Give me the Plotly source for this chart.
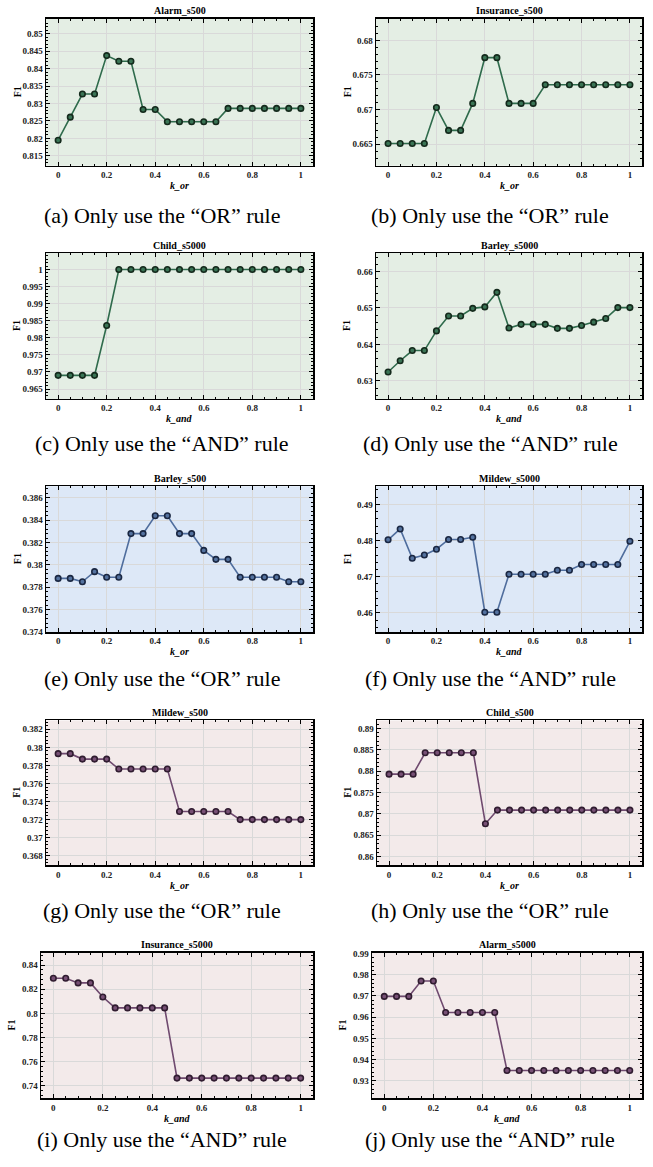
import plotly.graph_objects as go

W, H = 653, 1167

k_vals = [0, 0.05, 0.1, 0.15, 0.2, 0.25, 0.3, 0.35, 0.4, 0.45, 0.5,
          0.55, 0.6, 0.65, 0.7, 0.75, 0.8, 0.85, 0.9, 0.95, 1.0]

alarm_s500 = [0.8195, 0.8261, 0.8327, 0.8327, 0.8437, 0.8421, 0.8421, 0.8283, 0.8283, 0.8248, 0.8248,
              0.8248, 0.8248, 0.8248, 0.8286, 0.8286, 0.8286, 0.8286, 0.8286, 0.8286, 0.8286]
insurance_s500 = [0.6651, 0.6651, 0.6651, 0.6651, 0.6703, 0.6670, 0.6670, 0.6709, 0.6775, 0.6775, 0.6709,
                  0.6709, 0.6709, 0.6736, 0.6736, 0.6736, 0.6736, 0.6736, 0.6736, 0.6736, 0.6736]
child_s5000 = [0.9690, 0.9690, 0.9690, 0.9690, 0.9836, 1.0, 1.0, 1.0, 1.0, 1.0, 1.0,
               1.0, 1.0, 1.0, 1.0, 1.0, 1.0, 1.0, 1.0, 1.0, 1.0]
barley_s5000 = [0.6324, 0.6355, 0.6383, 0.6383, 0.6437, 0.6478, 0.6478, 0.6499, 0.6503, 0.6543, 0.6445,
                0.6455, 0.6455, 0.6455, 0.6444, 0.6444, 0.6452, 0.6461, 0.6471, 0.6501, 0.6501]
barley_s500 = [0.3788, 0.3788, 0.3785, 0.3794, 0.3789, 0.3789, 0.3828, 0.3828, 0.3844, 0.3844, 0.3828,
               0.3828, 0.3813, 0.3805, 0.3805, 0.3789, 0.3789, 0.3789, 0.3789, 0.3785, 0.3785]
mildew_s5000 = [0.4802, 0.4832, 0.4751, 0.4760, 0.4776, 0.4803, 0.4803, 0.4809, 0.4602, 0.4602, 0.4707,
                0.4707, 0.4707, 0.4707, 0.4718, 0.4718, 0.4734, 0.4734, 0.4734, 0.4734, 0.4798]
mildew_s500 = [0.3793, 0.3793, 0.3787, 0.3787, 0.3787, 0.3776, 0.3776, 0.3776, 0.3776, 0.3776, 0.3729,
               0.3729, 0.3729, 0.3729, 0.3729, 0.3720, 0.3720, 0.3720, 0.3720, 0.3720, 0.3720]
child_s500 = [0.8793, 0.8793, 0.8793, 0.8843, 0.8843, 0.8843, 0.8843, 0.8843, 0.8677, 0.8709, 0.8709,
              0.8709, 0.8709, 0.8709, 0.8709, 0.8709, 0.8709, 0.8709, 0.8709, 0.8709, 0.8709]
insurance_s5000 = [0.8291, 0.8291, 0.8253, 0.8253, 0.8136, 0.8046, 0.8046, 0.8046, 0.8046, 0.8046, 0.7465,
                   0.7465, 0.7465, 0.7465, 0.7465, 0.7465, 0.7465, 0.7465, 0.7465, 0.7465, 0.7465]
alarm_s5000 = [0.9698, 0.9698, 0.9698, 0.9771, 0.9771, 0.9622, 0.9622, 0.9622, 0.9622, 0.9622, 0.9348,
               0.9348, 0.9348, 0.9348, 0.9348, 0.9348, 0.9348, 0.9348, 0.9348, 0.9348, 0.9348]

titles = ["Alarm_s500", "Insurance_s500", "Child_s5000", "Barley_s5000", "Barley_s500",
          "Mildew_s5000", "Mildew_s500", "Child_s500", "Insurance_s5000", "Alarm_s5000"]
series = [alarm_s500, insurance_s500, child_s5000, barley_s5000, barley_s500,
          mildew_s5000, mildew_s500, child_s500, insurance_s5000, alarm_s5000]
xlabels = ["k_or", "k_or", "k_and", "k_and", "k_or", "k_and", "k_or", "k_or", "k_and", "k_and"]
captions = ["(a) Only use the “OR” rule", "(b) Only use the “OR” rule",
            "(c) Only use the “AND” rule", "(d) Only use the “AND” rule",
            "(e) Only use the “OR” rule", "(f) Only use the “AND” rule",
            "(g) Only use the “OR” rule", "(h) Only use the “OR” rule",
            "(i) Only use the “AND” rule", "(j) Only use the “AND” rule"]
y_ranges = [(0.8122, 0.8542), (0.6619, 0.6831), (0.9621, 1.0048), (0.6250, 0.6651),
            (0.3740, 0.38703), (0.4547, 0.4950), (0.36694, 0.38298), (0.8580, 0.89185),
            (0.7296, 0.85035), (0.9216, 0.99047)]
y_dticks = [0.005, 0.005, 0.005, 0.01, 0.002, 0.01, 0.002, 0.005, 0.02, 0.01]
themes = ["green", "green", "green", "green", "blue", "blue", "pink", "pink", "pink", "pink"]

THEME = {
    "green": dict(bg="#e4eee4", line="#2f6b4c", fill="#3a7455", edge="#142a1c"),
    "blue": dict(bg="#dde8f7", line="#4f6d9d", fill="#54729f", edge="#1a2742"),
    "pink": dict(bg="#f3eaea", line="#6f4a6f", fill="#775075", edge="#301c30"),
}

# plot-area pixel boxes (left, right, top, bottom)
boxes = [(46, 313, 15, 163), (376, 642, 15, 163),
         (46, 313, 251, 398), (376, 642, 251, 398),
         (46, 313, 486, 633), (376, 642, 486, 633),
         (46, 313, 722, 868), (377, 642, 722, 868),
         (41, 313, 956, 1103), (372, 642, 956, 1103)]
caption_y = [213, 213, 443, 443, 680, 680, 914, 914, 1144, 1144]

FONT = "Liberation Serif, Times New Roman, serif"

fig = go.Figure()
annotations = []
for i in range(10):
    th = THEME[themes[i]]
    n = i + 1
    xa = "x" if n == 1 else f"x{n}"
    ya = "y" if n == 1 else f"y{n}"
    fig.add_trace(go.Scatter(
        x=k_vals, y=series[i], xaxis=xa, yaxis=ya, mode="lines+markers",
        line=dict(color=th["line"], width=1.6),
        marker=dict(size=5.5, color=th["fill"], line=dict(color=th["edge"], width=1.6)),
        showlegend=False, hoverinfo="skip"))
    l, r, t, b = boxes[i]
    xd = [l / W, r / W]
    yd = [1 - b / H, 1 - t / H]
    axis_common = dict(showline=True, linecolor="black", linewidth=1.5, mirror="allticks",
                       ticks="inside", ticklen=4, tickwidth=1, tickcolor="black",
                       showgrid=True, gridcolor="#d9d9d9", gridwidth=1, zeroline=False,
                       tickfont=dict(family=FONT, size=9, color="#222", weight="bold"),
                       )
    xkey = "xaxis" if n == 1 else f"xaxis{n}"
    ykey = "yaxis" if n == 1 else f"yaxis{n}"
    fig.update_layout(**{
        xkey: dict(domain=xd, anchor=ya, range=[-0.05, 1.05], tick0=0, dtick=0.2,
                   minor=dict(ticks="inside", ticklen=2, dtick=0.05, tickcolor="black", showgrid=False),
                   **axis_common),
        ykey: dict(domain=yd, anchor=xa, range=list(y_ranges[i]), tick0=0, dtick=y_dticks[i],
                   minor=dict(ticks="inside", ticklen=2, dtick=y_dticks[i] / 5, tickcolor="black", showgrid=False),
                   **axis_common),
    })
    fig.add_shape(type="rect", xref="paper", yref="paper", x0=xd[0], x1=xd[1], y0=yd[0], y1=yd[1],
                  fillcolor=th["bg"], line=dict(width=0), layer="below")
    cx = (l + r) / 2 / W
    annotations.append(dict(text=f"<b>{titles[i]}</b>", x=cx, y=1 - (t - 8) / H, xref="paper", yref="paper",
                            showarrow=False, font=dict(family=FONT, size=10, color="black"),
                            xanchor="center", yanchor="middle"))
    annotations.append(dict(text=f"<b><i>{xlabels[i]}</i></b>", x=cx, y=1 - (b + 20) / H,
                            xref="paper", yref="paper", showarrow=False,
                            font=dict(family=FONT, size=10, color="black"),
                            xanchor="center", yanchor="middle"))
    annotations.append(dict(text="<b>F1</b>", x=(l - 29) / W, y=(yd[0] + yd[1]) / 2,
                            xref="paper", yref="paper", showarrow=False, textangle=-90,
                            font=dict(family=FONT, size=10, color="black"),
                            xanchor="center", yanchor="middle"))
    ccx = 162 if i % 2 == 0 else 490
    annotations.append(dict(text=captions[i], x=ccx / W, y=1 - caption_y[i] / H,
                            xref="paper", yref="paper", showarrow=False,
                            font=dict(family=FONT, size=22, color="black"),
                            xanchor="center", yanchor="middle"))

fig.update_layout(width=W, height=H, margin=dict(l=0, r=0, t=0, b=0),
                  paper_bgcolor="white", plot_bgcolor="rgba(0,0,0,0)",
                  annotations=annotations)

fig.write_html("out.html", config={"displayModeBar": False, "staticPlot": True},
               post_script="document.body.style.margin='0';document.body.style.overflow='hidden';")
